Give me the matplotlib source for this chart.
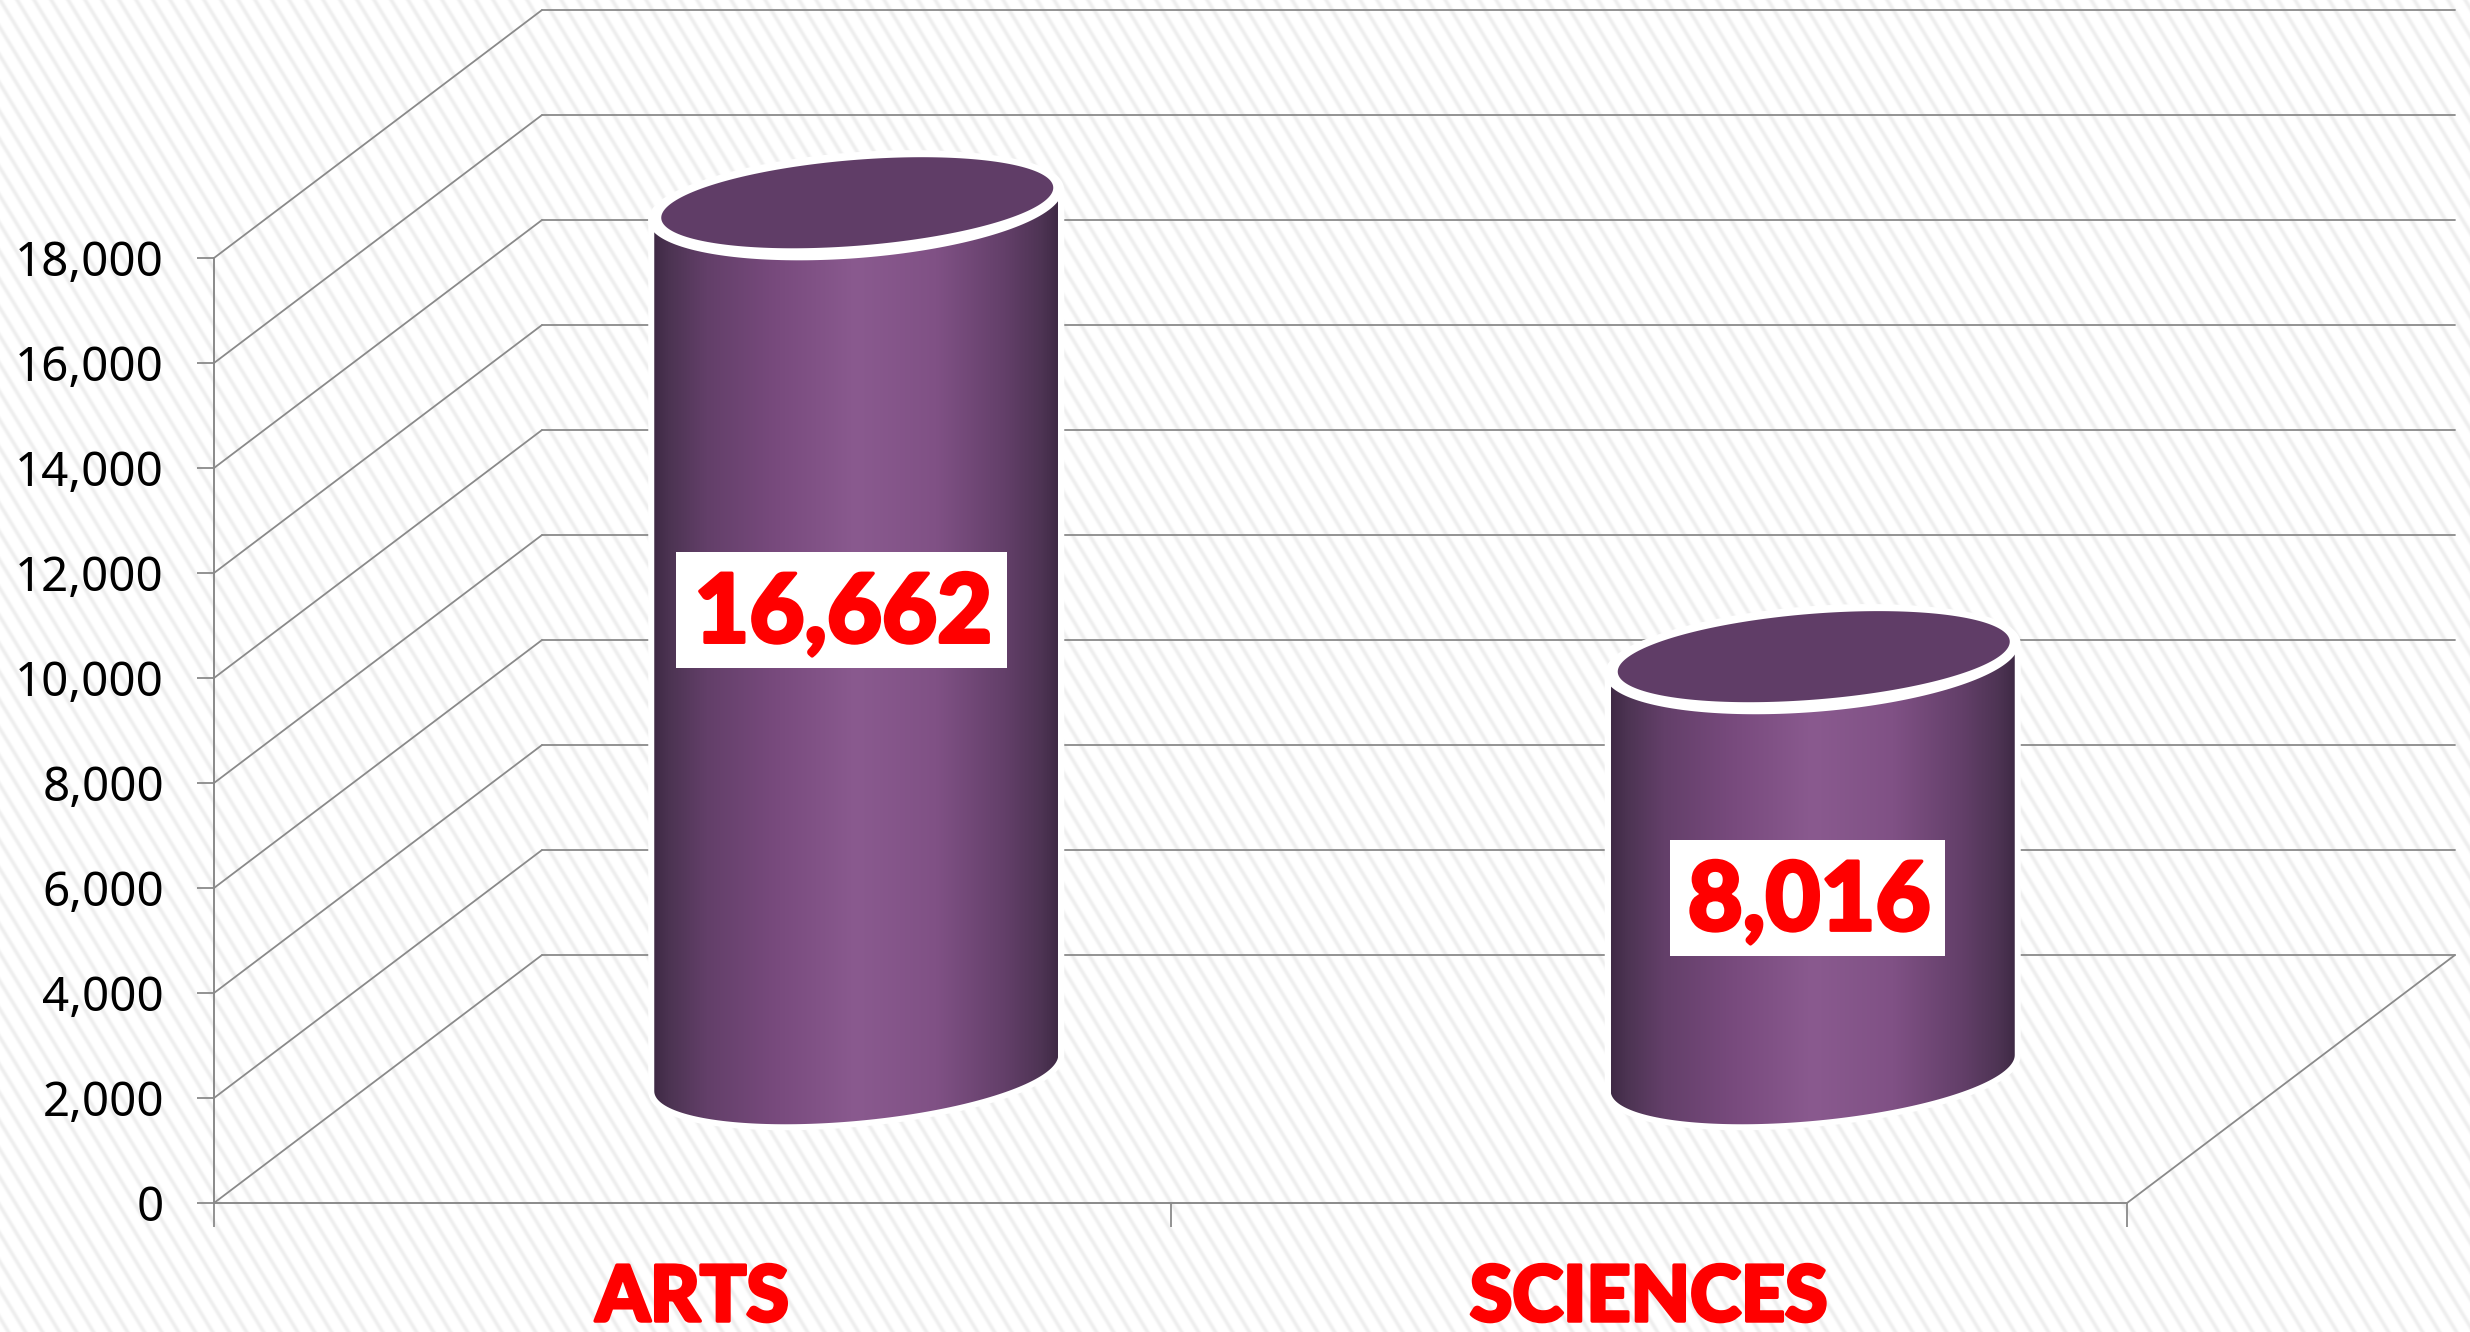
import numpy as np
import matplotlib
matplotlib.use("Agg")
import matplotlib.pyplot as plt
import matplotlib.patheffects as pe
from matplotlib.colors import LinearSegmentedColormap
from matplotlib.patches import Polygon, Rectangle

# ---- data ----
categories = ["ARTS", "SCIENCES"]
values = [16662, 8016]
value_labels = ["16,662", "8,016"]
y_ticks = [0, 2000, 4000, 6000, 8000, 10000, 12000, 14000, 16000, 18000]

# ---- layout (pixels) ----
W, H = 2470, 1332
LEFT, RIGHT, BASE, TOP = 214, 2127, 1203, 258
DEPTH_X, DEPTH_Y = 328, 248
GRID = "#8a8a8a"
RED = "#ff0000"
px = 72 / 100

fig = plt.figure(figsize=(W / 100, H / 100), dpi=100, facecolor="white")

# diagonal striped background
yy, xx = np.mgrid[0:H, 0:W]
phase = (xx - yy / 1.65) / 17.0
s = np.clip(np.cos(2 * np.pi * phase), 0, 1) ** 2
bg = 255 - 17 * s
fig.figimage(np.dstack([bg, bg, bg]).astype(np.uint8), 0, 0, origin="upper", zorder=-5)

ax = fig.add_axes([LEFT / W, 1 - BASE / H, (RIGHT - LEFT) / W, (BASE - TOP) / H])
ax.patch.set_visible(False)
ax.set_xlim(0, 2)
ax.set_ylim(0, 18000)
DX = 2 / (RIGHT - LEFT)
DY = 18000 / (BASE - TOP)
ddx, ddy = DEPTH_X * DX, DEPTH_Y * DY

for sp in ("top", "right"):
    ax.spines[sp].set_visible(False)
for sp in ("left", "bottom"):
    ax.spines[sp].set_color(GRID)
    ax.spines[sp].set_linewidth(1.4)

ax.set_yticks(y_ticks)
ax.set_yticklabels([f"{v:,}" for v in y_ticks], fontfamily="Noto Sans", fontsize=47.5 * px, color="black")
ax.tick_params(axis="y", length=17 * px, width=1.3, color=GRID, pad=33 * px)
ax.set_xticks([0, 1, 2])
ax.set_xticklabels(["", "", ""])
ax.tick_params(axis="x", which="major", length=24 * px, width=1.3, color=GRID)
ax.set_xticks([0.5, 1.5], minor=True)
ax.set_xticklabels(categories, minor=True, fontfamily="Lato", fontweight=900,
                   fontsize=77 * px, color=RED,
                   path_effects=[pe.withStroke(linewidth=2.5, foreground=RED)])
ax.tick_params(axis="x", which="minor", length=0, pad=61 * px)

# walls and floor
line_kw = dict(color=GRID, lw=1.3, clip_on=False, zorder=1, solid_capstyle="round")
for v in y_ticks:
    ax.plot([0, ddx], [v, v + ddy], **line_kw)
    ax.plot([ddx, 2 + ddx], [v + ddy, v + ddy], **line_kw)
ax.plot([2, 2 + ddx], [0, ddy], **line_kw)

# cylinders
cmap = LinearSegmentedColormap.from_list("cyl", [
    (0.00, "#3f2a45"), (0.04, "#4d3453"), (0.13, "#633f69"), (0.30, "#784a7d"),
    (0.50, "#8a5a8f"), (0.70, "#805185"), (0.87, "#633f69"), (0.96, "#4e3454"),
    (1.00, "#3f2a45")])
BODY_W = 202
CX_OFF, TOP_OFF, BASE_OFF = 164, 123, 130
t = np.linspace(0, 2 * np.pi, 241)


def ellipse(cx, cy, a, c, d, tt=t, dy0=0):
    return np.column_stack([cx + a * np.cos(tt) * DX,
                            cy - (c * np.cos(tt) + d * np.sin(tt) + dy0) * DY])


label_offsets = [(-15, 405), (-5.5, 239)]
box_widths = [331, 275]
BOX_H = 116
for i, (val, lab) in enumerate(zip(values, value_labels)):
    cx = i + 0.5 + CX_OFF * DX
    ytop = val + TOP_OFF * DY
    ybase = BASE_OFF * DY
    lower = ellipse(cx, ybase, BODY_W, -18, 48, np.linspace(0, np.pi, 120))
    upper = ellipse(cx, ytop, BODY_W, -15, 46, np.linspace(np.pi, 2 * np.pi, 120))
    body = np.vstack([lower, upper])
    ax.add_patch(Polygon(body, closed=True, fc="white", ec="white", lw=12 * px,
                         joinstyle="round", zorder=3, clip_on=False))
    clip = Polygon(body, closed=True, transform=ax.transData, fc="none", ec="none", clip_on=False)
    ax.add_patch(clip)
    im = ax.imshow(np.linspace(0, 1, 512).reshape(1, -1), cmap=cmap, aspect="auto",
                   extent=[cx - BODY_W * DX, cx + BODY_W * DX, 0, ytop + 60 * DY], zorder=4)
    im.set_clip_box(fig.bbox)
    im.set_clip_path(clip)
    ax.add_patch(Polygon(ellipse(cx - 1 * DX, ytop, 207, -15, 53), closed=True,
                         fc="white", ec="none", zorder=5, clip_on=False))
    ax.add_patch(Polygon(ellipse(cx + 1 * DX, ytop, 196, -15, 43, dy0=-2.5), closed=True,
                         fc="#603d67", ec="none", zorder=6, clip_on=False))
    ox, oy = label_offsets[i]
    lx, ly = cx + ox * DX, ytop - oy * DY
    ax.add_patch(Rectangle((lx - box_widths[i] / 2 * DX, ly - BOX_H / 2 * DY),
                           box_widths[i] * DX, BOX_H * DY, fc="white", ec="none", zorder=7))
    ax.text(lx + 2 * DX, ly - 32 * DY, lab, ha="center", va="baseline",
            fontfamily="Lato", fontweight=900, fontsize=95 * px, color=RED, zorder=8,
            path_effects=[pe.withStroke(linewidth=2.5, foreground=RED)])

ax.set_xlim(0, 2)
ax.set_ylim(0, 18000)
fig.savefig("out.png", dpi=100)
